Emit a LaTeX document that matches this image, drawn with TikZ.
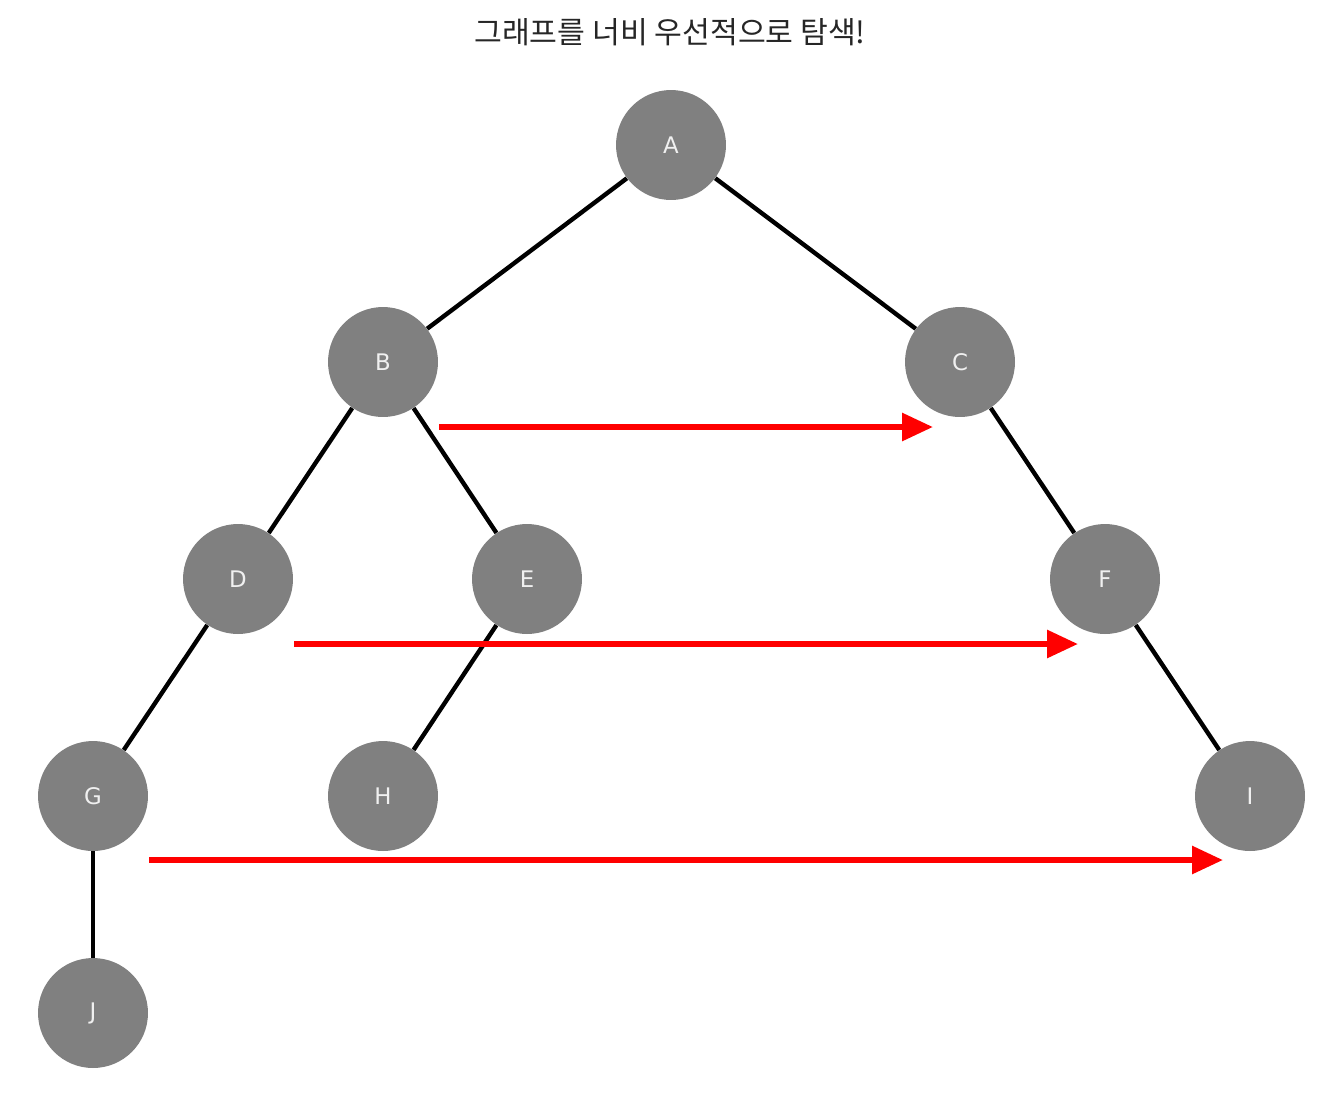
\documentclass[tikz,border=0pt]{standalone}
\usepackage{fontspec}
\setmainfont{DejaVu Sans}
\newfontfamily\krfont{Noto Sans CJK KR}
\usetikzlibrary{arrows.meta}
\definecolor{nodegray}{HTML}{808080}
\definecolor{labelgray}{HTML}{F0F0F0}
\tikzset{
  vertex/.style={circle, fill=nodegray, draw=none, minimum size=2.2cm, inner sep=0pt,
    text=labelgray, font=\fontsize{13}{14}\selectfont},
  edge/.style={line width=2.5pt, black},
  visit/.style={line width=3.4pt, red, -{Triangle[length=0.62cm, width=0.54cm]}},
}
\begin{document}
\begin{tikzpicture}[x=0.02cm, y=-0.02cm]
\useasboundingbox (0,0) rectangle (1328,1096);
\node[font=\krfont\fontsize{17.2}{19}\selectfont, text=black!85] (title) at (670,32) {그래프를 너비 우선적으로 탐색!};
\node[vertex] (A) at (671,145) {A};
\node[vertex] (B) at (383,362) {B};
\node[vertex] (C) at (960,362) {C};
\node[vertex] (D) at (238,579) {D};
\node[vertex] (E) at (527,579) {E};
\node[vertex] (F) at (1105,579) {F};
\node[vertex] (G) at (93,796) {G};
\node[vertex] (H) at (383,796) {H};
\node[vertex] (I) at (1250,796) {I};
\node[vertex] (J) at (93,1013) {J};
\draw[edge] (A) -- (B);
\draw[edge] (A) -- (C);
\draw[edge] (B) -- (D);
\draw[edge] (B) -- (E);
\draw[edge] (C) -- (F);
\draw[edge] (D) -- (G);
\draw[edge] (E) -- (H);
\draw[edge] (F) -- (I);
\draw[edge] (G) -- (J);
\coordinate (r1s) at (439,427);
\coordinate (r1e) at (933,427);
\coordinate (r2s) at (294,644);
\coordinate (r2e) at (1078,644);
\coordinate (r3s) at (149,860);
\coordinate (r3e) at (1223,860);
\draw[visit] (r1s) -- (r1e);
\draw[visit] (r2s) -- (r2e);
\draw[visit] (r3s) -- (r3e);
\end{tikzpicture}
\end{document}
